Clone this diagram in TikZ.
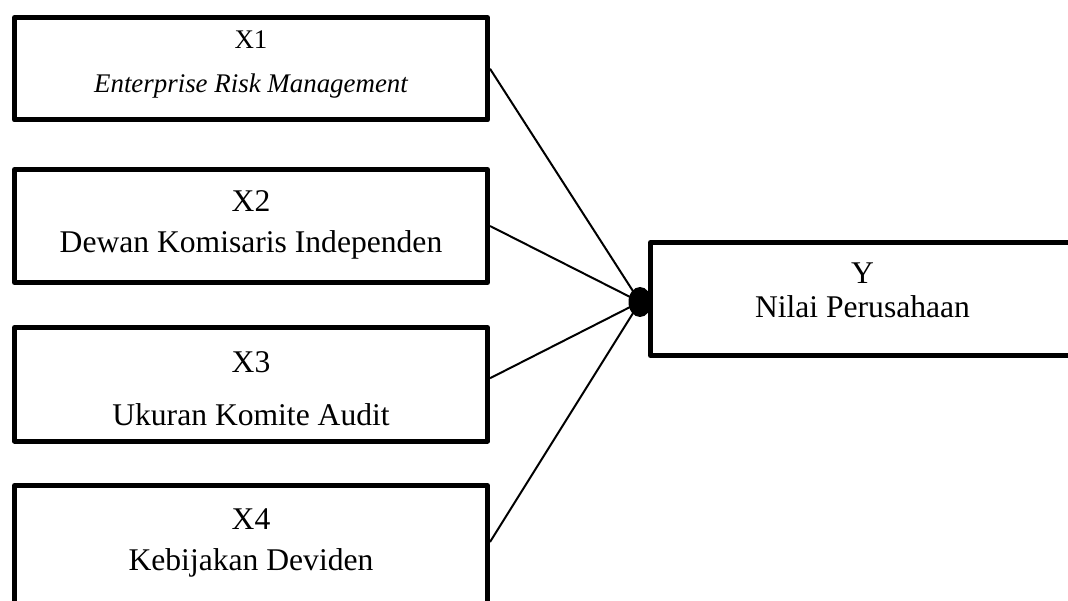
\documentclass[tikz,border=0pt]{standalone}
\usepackage{fontspec}
\setmainfont{Liberation Serif}
\usetikzlibrary{shapes.geometric}
\begin{document}
\begin{tikzpicture}[x=1pt,y=-1pt,
  box/.style={draw,line width=5pt,line join=round,fill=white,rectangle,inner sep=0pt},
  lbl/.style={font=\fontsize{31.6}{36}\selectfont,anchor=base,inner sep=0pt},
  lblsmall/.style={font=\fontsize{26.9}{31}\selectfont,anchor=base,inner sep=0pt},
  conn/.style={line width=2pt}]
\useasboundingbox (0,0) rectangle (1068,601);
\clip (0,0) rectangle (1068,601);
\fill[white] (0,0) rectangle (1068,601);
% boxes
\node[box,minimum width=473pt,minimum height=102.5pt] (x1) at (251,68.75) {};
\node[box,minimum width=473pt,minimum height=113pt] (x2) at (251,226) {};
\node[box,minimum width=473pt,minimum height=113.5pt] (x3) at (251,384.25) {};
\node[box,minimum width=473pt,minimum height=118pt] (x4) at (251,544.5) {};
% dot
\node[ellipse,fill=black,inner sep=0pt,minimum width=23pt,minimum height=30pt] (dot) at (640,302) {};
% connectors
\draw[conn] (x1.east) -- (dot.center);
\draw[conn] (x2.east) -- (dot.center);
\draw[conn] ([yshift=6pt]x3.east) -- (dot.center);
\draw[conn] ([yshift=2.5pt]x4.east) -- (dot.center);
\node[box,minimum width=424.5pt,minimum height=113pt] (y) at (862.75,299) {};
% labels
\node[lblsmall] (t1a) at (251,49) {X1};
\node[lblsmall] (t1b) at (251,93) {\itshape Enterprise Risk Management};
\node[lbl] (t2a) at (251,212) {X2};
\node[lbl] (t2b) at (251,253) {Dewan Komisaris Independen};
\node[lbl] (t3a) at (251,373) {X3};
\node[lbl] (t3b) at (251,425) {Ukuran Komite Audit};
\node[lbl] (t4a) at (251,529) {X4};
\node[lbl] (t4b) at (251,570) {Kebijakan Deviden};
\node[lbl] (tya) at (862.5,284) {Y};
\node[lbl] (tyb) at (862.5,318) {Nilai Perusahaan};
\end{tikzpicture}
\end{document}
